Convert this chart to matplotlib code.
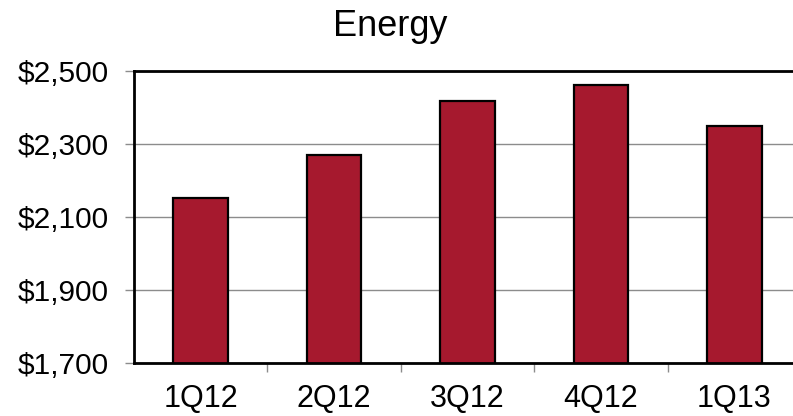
import matplotlib.pyplot as plt
import numpy as np

# Quarterly energy figures
quarters = ['1Q12', '2Q12', '3Q12', '4Q12', '1Q13']
energy = [2152, 2270, 2417, 2461, 2348]
yticks = [1700, 1900, 2100, 2300, 2500]

plt.rcParams['font.family'] = ['Liberation Sans', 'DejaVu Sans']

fig = plt.figure(figsize=(7.93, 4.16), dpi=100)
ax = fig.add_axes([0.169, 0.1274, 0.841, 0.703])

x = np.arange(len(quarters))
ax.bar(x, energy, width=0.41, color='#A6192E', edgecolor='black',
       linewidth=1.6, zorder=3)

ax.set_xlim(-0.5, len(quarters) - 0.5)
ax.set_ylim(1700, 2500)
ax.set_yticks(yticks)
ax.set_yticklabels(['${:,}'.format(v) for v in yticks])
ax.yaxis.grid(True, color='#8c8c8c', linewidth=1.0, zorder=0)

# category labels centred, tick marks between categories
ax.set_xticks(x)
ax.set_xticklabels(quarters)
ax.set_xticks(np.arange(0.5, len(quarters) - 0.5, 1), minor=True)
ax.tick_params(axis='x', which='major', length=0, pad=15, labelsize=22)
ax.tick_params(axis='x', which='minor', length=6.5, color='#8c8c8c', width=1)
ax.tick_params(axis='y', length=6.5, color='#8c8c8c', width=1, pad=12, labelsize=21.5)

for side in ['left', 'bottom', 'top']:
    ax.spines[side].set_linewidth(2.0)
    ax.spines[side].set_zorder(4)
ax.spines['right'].set_visible(False)

fig.text(0.492, 0.9375, 'Energy', ha='center', va='center', fontsize=26)

fig.savefig('out.png', dpi=100)
